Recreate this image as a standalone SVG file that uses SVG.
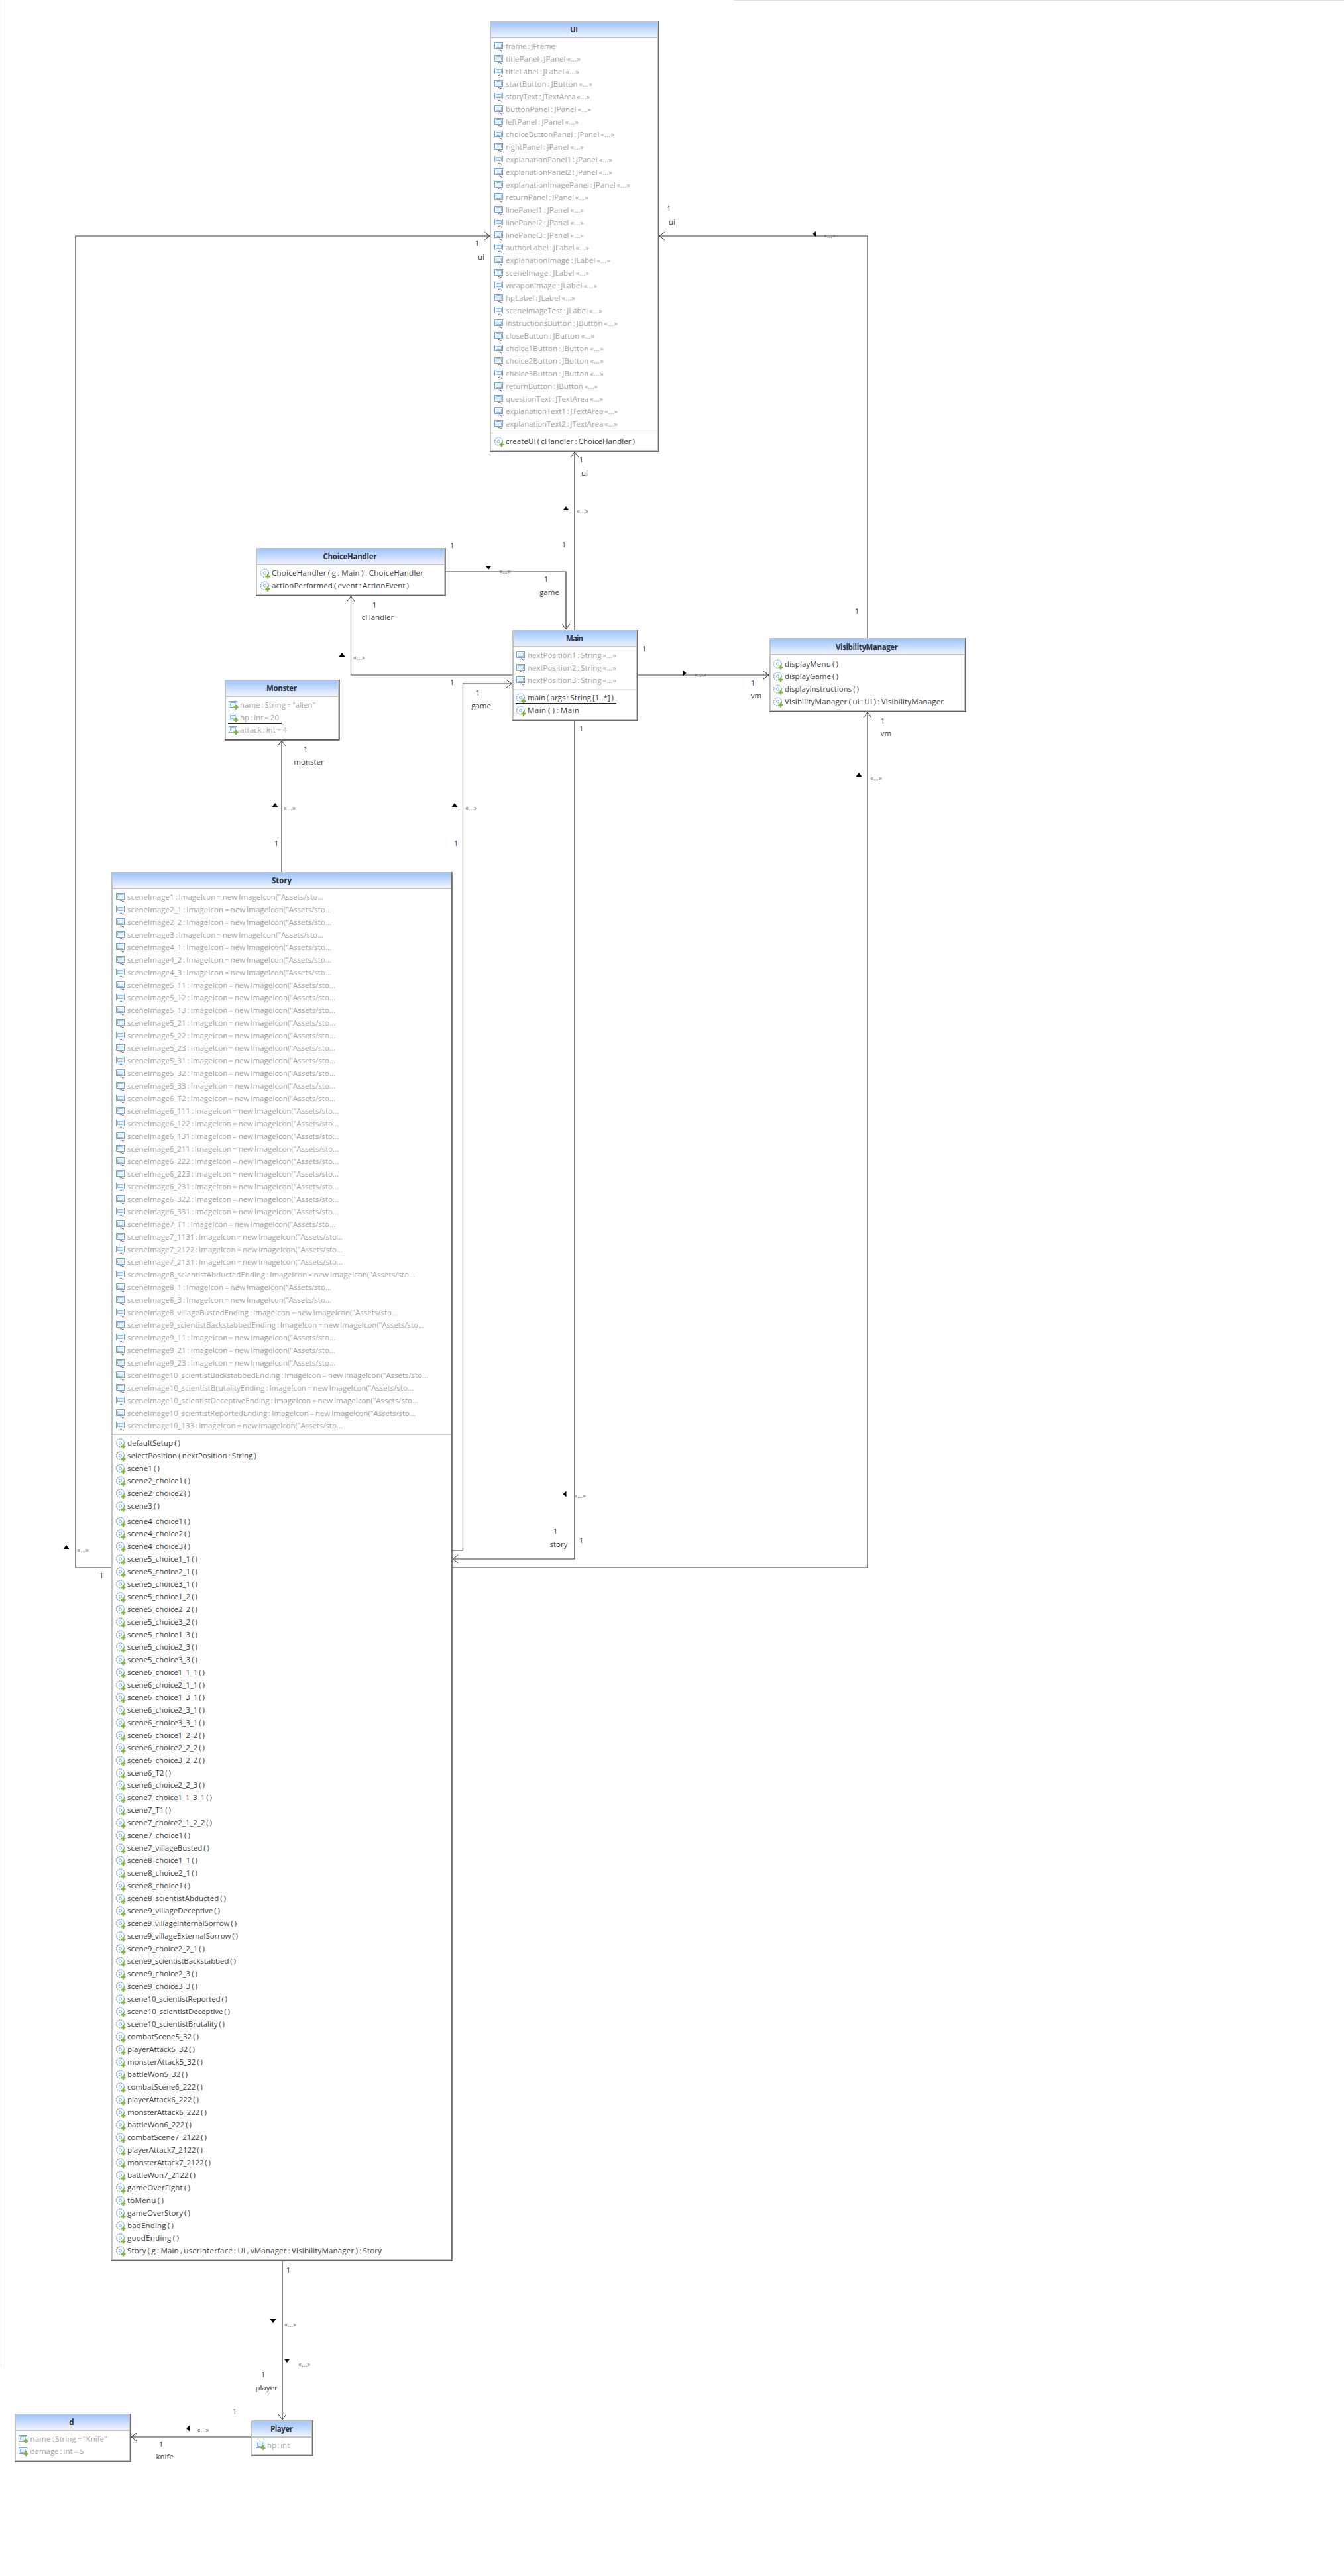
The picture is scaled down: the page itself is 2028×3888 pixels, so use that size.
<svg xmlns="http://www.w3.org/2000/svg" width="2028" height="3888" viewBox="0 0 2028 3888">
<style>
text{font-family:"Open Sans","Noto Sans","Liberation Sans",sans-serif;font-size:11.5px;word-spacing:-1px}
.a{fill:#a3a3a3}
.m{fill:#3a3a3a}
.t{font-weight:700;fill:#2f3340;text-anchor:middle;font-size:11.5px;word-spacing:0}
.l{fill:#3a3a3a;text-anchor:middle;word-spacing:0}
.s{fill:#6e6e6e;font-size:10px;text-anchor:middle;word-spacing:0}
.b{fill:#fff;stroke:#c4c4c4;stroke-width:2}
.h{fill:url(#hg)}
.d{stroke:#c4c4c4;stroke-width:2;fill:none}
.d1{stroke:#cfcfcf;stroke-width:1;fill:none}
.e{stroke:#444;stroke-width:1.3;fill:none}
.c{stroke:#3a3a3a;stroke-width:1.2;fill:none}
.u{stroke:#222;stroke-width:1}
</style>
<defs>
<linearGradient id="hg" x1="0" y1="0" x2="0" y2="1"><stop offset="0" stop-color="#9fc6ff"/><stop offset="1" stop-color="#eef4ff"/></linearGradient>
<marker id="o" markerUnits="userSpaceOnUse" markerWidth="12" markerHeight="14" refX="10" refY="7" orient="auto"><path d="M2 1L10 7L2 13" fill="none" stroke="#333" stroke-width="1"/></marker>
<polygon id="tu" points="-4.5,3 4.5,3 0,-3" fill="#000"/>
<polygon id="td" points="-4.5,-3 4.5,-3 0,3" fill="#000"/>
<polygon id="tl" points="2.5,-4.5 2.5,4.5 -2.5,0" fill="#000"/>
<polygon id="tr" points="-2.5,-4.5 -2.5,4.5 2.5,0" fill="#000"/>
<g id="f"><rect x="0.5" y="-5.5" width="12" height="9" fill="#fff" stroke="#6fa6dd"/><rect x="2.5" y="-3.5" width="8" height="5" fill="#eaf3fc" stroke="#94bde8"/><path d="M6 6q1.500-2 3 0t3 0" fill="none" stroke="#555"/></g>
<g id="fp"><rect x="0.500" y="-5.500" width="12" height="9" fill="#fff" stroke="#6fa6dd"/><rect x="2.500" y="-3.500" width="8" height="5" fill="#eaf3fc" stroke="#94bde8"/><path d="M11 0v7M7.500 3.500h7" stroke="#7fb33a" stroke-width="2.600"/></g>
<g id="mt"><circle cx="6.500" cy="0" r="6" fill="#fff" stroke="#6fa6dd" stroke-width="1.300" stroke-dasharray="2 1.200"/><circle cx="6.500" cy="0" r="2" fill="#fff" stroke="#6fa6dd"/><path d="M11 1.500v7M7.500 5h7" stroke="#7fb33a" stroke-width="2.600"/></g>
</defs>
<rect width="2028" height="3888" fill="#fff"/>
<path d="M1107 0.500H2028" stroke="#dedede"/>
<path d="M1.500 0V3572" stroke="#e4e4e4"/>

<g id="connectors">
<path class="c" d="M867 951V682" marker-end="url(#o)"/>
<path class="c" d="M673 863H854V950" marker-end="url(#o)"/>
<path class="c" d="M773 1019H529.500V900" marker-end="url(#o)"/>
<path class="c" d="M682 2340H698.500V1032H772" marker-end="url(#o)"/>
<path class="c" d="M425 1316V1118" marker-end="url(#o)"/>
<path class="c" d="M867 1088V2353H683" marker-end="url(#o)"/>
<path class="c" d="M168 2366H114V356H739" marker-end="url(#o)"/>
<path class="c" d="M682 2366H1309V1075" marker-end="url(#o)"/>
<path class="c" d="M1309 963V356H995" marker-end="url(#o)"/>
<path class="c" d="M962 1019H1160" marker-end="url(#o)"/>
<path class="c" d="M426 3413V3652" marker-end="url(#o)"/>
<path class="c" d="M379 3678H198" marker-end="url(#o)"/>
<use href="#tl" x="1229" y="353"/><text class="s" x="1252" y="359">«...»</text>
<text class="l" x="1009" y="319">1</text><text class="l" x="1014" y="339">ui</text>
<text class="l" x="720" y="371">1</text><text class="l" x="726" y="392">ui</text>
<use href="#tu" x="854" y="767"/><text class="s" x="879" y="775">«...»</text>
<text class="l" x="877" y="698">1</text><text class="l" x="882" y="718">ui</text><text class="l" x="851" y="826">1</text>
<text class="l" x="682" y="827">1</text><use href="#td" x="737" y="857"/><text class="s" x="762" y="866">«...»</text>
<text class="l" x="824" y="878">1</text><text class="l" x="829" y="898">game</text>
<text class="l" x="565" y="917">1</text><text class="l" x="570" y="936">cHandler</text>
<use href="#tu" x="516" y="988"/><text class="s" x="542" y="996">«...»</text><text class="l" x="682" y="1034">1</text>
<text class="l" x="721" y="1050">1</text><text class="l" x="726" y="1069">game</text>
<text class="l" x="461" y="1135">1</text><text class="l" x="466" y="1154">monster</text>
<use href="#tu" x="415" y="1215"/><text class="s" x="437" y="1223">«...»</text><text class="l" x="417" y="1277">1</text>
<use href="#tu" x="686" y="1215"/><text class="s" x="711" y="1223">«...»</text><text class="l" x="688" y="1277">1</text>
<text class="l" x="877" y="1104">1</text>
<use href="#tl" x="852" y="2255"/><text class="s" x="875" y="2261">«...»</text>
<text class="l" x="838" y="2315">1</text><text class="l" x="843" y="2335">story</text><text class="l" x="877" y="2329">1</text>
<use href="#tu" x="100" y="2335"/><text class="s" x="125" y="2343">«...»</text><text class="l" x="153" y="2382">1</text>
<text class="l" x="1293" y="926">1</text>
<text class="l" x="972" y="983">1</text><use href="#tr" x="1033" y="1016"/><text class="s" x="1057" y="1022">«...»</text>
<text class="l" x="1136" y="1035">1</text><text class="l" x="1141" y="1054">vm</text>
<text class="l" x="1332" y="1092">1</text><text class="l" x="1337" y="1111">vm</text>
<use href="#tu" x="1296" y="1169"/><text class="s" x="1322" y="1178">«...»</text>
<text class="l" x="435" y="3430">1</text><use href="#td" x="412" y="3503"/><text class="s" x="438" y="3512">«...»</text>
<use href="#td" x="433" y="3563"/><text class="s" x="459" y="3572">«...»</text>
<text class="l" x="397" y="3588">1</text><text class="l" x="402" y="3608">player</text>
<text class="l" x="354" y="3644">1</text><use href="#tl" x="283.500" y="3665"/><text class="s" x="306.500" y="3671">«...»</text>
<text class="l" x="243" y="3693">1</text><text class="l" x="248.600" y="3712">knife</text>
</g>

<g id="node-ui">
<rect class="b" x="740" y="33" width="253" height="647"/><rect class="h" x="741" y="34" width="251" height="22"/><path class="d" d="M740 57H993"/><path class="d1" d="M741 653.500H992"/><path class="e" d="M994 32V681H739"/>
<text class="t" x="866" y="49" textLength="12">UI</text>
<use href="#f" x="746" y="70"/><text class="a" x="763" y="74" textLength="75">frame : JFrame</text>
<use href="#f" x="746" y="89"/><text class="a" x="763" y="93" textLength="113">titlePanel : JPanel «...»</text>
<use href="#f" x="746" y="108"/><text class="a" x="763" y="112" textLength="111">titleLabel : JLabel «...»</text>
<use href="#f" x="746" y="127"/><text class="a" x="763" y="131" textLength="131">startButton : JButton «...»</text>
<use href="#f" x="746" y="146"/><text class="a" x="763" y="150" textLength="127">storyText : JTextArea «...»</text>
<use href="#f" x="746" y="165"/><text class="a" x="763" y="169" textLength="129">buttonPanel : JPanel «...»</text>
<use href="#f" x="746" y="184"/><text class="a" x="763" y="188" textLength="110">leftPanel : JPanel «...»</text>
<use href="#f" x="746" y="203"/><text class="a" x="763" y="207" textLength="164">choiceButtonPanel : JPanel «...»</text>
<use href="#f" x="746" y="222"/><text class="a" x="763" y="226" textLength="118">rightPanel : JPanel «...»</text>
<use href="#f" x="746" y="241"/><text class="a" x="763" y="245" textLength="161">explanationPanel1 : JPanel «...»</text>
<use href="#f" x="746" y="260"/><text class="a" x="763" y="264" textLength="161">explanationPanel2 : JPanel «...»</text>
<use href="#f" x="746" y="279"/><text class="a" x="763" y="283" textLength="188">explanationImagePanel : JPanel «...»</text>
<use href="#f" x="746" y="298"/><text class="a" x="763" y="302" textLength="125">returnPanel : JPanel «...»</text>
<use href="#f" x="746" y="317"/><text class="a" x="763" y="321" textLength="118">linePanel1 : JPanel «...»</text>
<use href="#f" x="746" y="336"/><text class="a" x="763" y="340" textLength="118">linePanel2 : JPanel «...»</text>
<use href="#f" x="746" y="355"/><text class="a" x="763" y="359" textLength="118">linePanel3 : JPanel «...»</text>
<use href="#f" x="746" y="374"/><text class="a" x="763" y="378" textLength="126">authorLabel : JLabel «...»</text>
<use href="#f" x="746" y="393"/><text class="a" x="763" y="397" textLength="158">explanationImage : JLabel «...»</text>
<use href="#f" x="746" y="412"/><text class="a" x="763" y="416" textLength="126">sceneImage : JLabel «...»</text>
<use href="#f" x="746" y="431"/><text class="a" x="763" y="435" textLength="138">weaponImage : JLabel «...»</text>
<use href="#f" x="746" y="450"/><text class="a" x="763" y="454" textLength="105">hpLabel : JLabel «...»</text>
<use href="#f" x="746" y="469"/><text class="a" x="763" y="473" textLength="146">sceneImageTest : JLabel «...»</text>
<use href="#f" x="746" y="488"/><text class="a" x="763" y="492" textLength="169">instructionsButton : JButton «...»</text>
<use href="#f" x="746" y="507"/><text class="a" x="763" y="511" textLength="134">closeButton : JButton «...»</text>
<use href="#f" x="746" y="526"/><text class="a" x="763" y="530" textLength="148">choice1Button : JButton «...»</text>
<use href="#f" x="746" y="545"/><text class="a" x="763" y="549" textLength="148">choice2Button : JButton «...»</text>
<use href="#f" x="746" y="564"/><text class="a" x="763" y="568" textLength="148">choice3Button : JButton «...»</text>
<use href="#f" x="746" y="583"/><text class="a" x="763" y="587" textLength="139">returnButton : JButton «...»</text>
<use href="#f" x="746" y="602"/><text class="a" x="763" y="606" textLength="147">questionText : JTextArea «...»</text>
<use href="#f" x="746" y="621"/><text class="a" x="763" y="625" textLength="169">explanationText1 : JTextArea «...»</text>
<use href="#f" x="746" y="640"/><text class="a" x="763" y="644" textLength="169">explanationText2 : JTextArea «...»</text>
<use href="#mt" x="746" y="666"/><text class="m" x="763" y="670" textLength="195">createUI ( cHandler : ChoiceHandler )</text>
</g>

<g id="node-choicehandler">
<rect class="b" x="387" y="828" width="284" height="70"/><rect class="h" x="388" y="829" width="282" height="22"/><path class="d" d="M387 852H671"/><path class="e" d="M672 827V899H386"/>
<text class="t" x="528" y="844" textLength="81">ChoiceHandler</text>
<use href="#mt" x="393" y="865"/><text class="m" x="410" y="869" textLength="229">ChoiceHandler ( g : Main ) :  ChoiceHandler</text>
<use href="#mt" x="393" y="884"/><text class="m" x="410" y="888" textLength="207">actionPerformed ( event : ActionEvent )</text>
</g>

<g id="node-main">
<rect class="b" x="774" y="952" width="187" height="134"/><rect class="h" x="775" y="953" width="185" height="22"/><path class="d" d="M774 976H961"/><path class="d1" d="M775 1041H960"/><path class="e" d="M962 951V1087H773"/>
<text class="t" x="867" y="968" textLength="26">Main</text>
<use href="#f" x="779" y="989"/><text class="a" x="796" y="993" textLength="134">nextPosition1 : String «...»</text>
<use href="#f" x="779" y="1008"/><text class="a" x="796" y="1012" textLength="134">nextPosition2 : String «...»</text>
<use href="#f" x="779" y="1027"/><text class="a" x="796" y="1031" textLength="134">nextPosition3 : String «...»</text>
<use href="#mt" x="779" y="1053"/><text class="m" x="796" y="1057" textLength="130">main ( args : String [1..*] )</text><path class="u" d="M778 1061.500H930"/>
<use href="#mt" x="779" y="1072"/><text class="m" x="796" y="1076" textLength="78">Main ( ) :  Main</text>
</g>

<g id="node-monster">
<rect class="b" x="340" y="1027" width="171" height="89"/><rect class="h" x="341" y="1028" width="169" height="22"/><path class="d" d="M340 1051H511"/><path class="e" d="M512 1026V1117H339"/>
<text class="t" x="425" y="1043" textLength="46">Monster</text>
<use href="#fp" x="345" y="1064"/><text class="a" x="362" y="1068" textLength="114">name : String = "alien"</text>
<use href="#fp" x="345" y="1083"/><text class="a" x="362" y="1087" textLength="59">hp : int = 20</text><path class="u" d="M344 1091.500H425"/>
<use href="#fp" x="345" y="1102"/><text class="a" x="362" y="1106" textLength="71">attack : int = 4</text>
</g>

<g id="node-visibilitymanager">
<rect class="b" x="1162" y="964" width="294" height="109"/><rect class="h" x="1163" y="965" width="292" height="22"/><path class="d" d="M1162 988H1456"/><path class="e" d="M1457 963V1074H1161"/>
<text class="t" x="1308" y="981" textLength="94">VisibilityManager</text>
<use href="#mt" x="1167" y="1002"/><text class="m" x="1184" y="1006" textLength="81">displayMenu ( )</text>
<use href="#mt" x="1167" y="1021"/><text class="m" x="1184" y="1025" textLength="81">displayGame ( )</text>
<use href="#mt" x="1167" y="1040"/><text class="m" x="1184" y="1044" textLength="112">displayInstructions ( )</text>
<use href="#mt" x="1167" y="1059"/><text class="m" x="1184" y="1063" textLength="240">VisibilityManager ( ui : UI ) :  VisibilityManager</text>
</g>

<g id="node-story">
<rect class="b" x="169" y="1317" width="512" height="2094"/><rect class="h" x="170" y="1318" width="510" height="22"/><path class="d" d="M169 1341H681"/><path class="d1" d="M170 2165.500H680"/><path class="e" d="M682 1316V3412H168"/>
<text class="t" x="425" y="1333" textLength="30">Story</text>
<use href="#f" x="175" y="1354"/><text class="a" x="192" y="1358" textLength="296">sceneImage1 : ImageIcon = new ImageIcon("Assets/sto...</text>
<use href="#f" x="175" y="1373"/><text class="a" x="192" y="1377" textLength="308">sceneImage2_1 : ImageIcon = new ImageIcon("Assets/sto...</text>
<use href="#f" x="175" y="1392"/><text class="a" x="192" y="1396" textLength="308">sceneImage2_2 : ImageIcon = new ImageIcon("Assets/sto...</text>
<use href="#f" x="175" y="1411"/><text class="a" x="192" y="1415" textLength="296">sceneImage3 : ImageIcon = new ImageIcon("Assets/sto...</text>
<use href="#f" x="175" y="1430"/><text class="a" x="192" y="1434" textLength="308">sceneImage4_1 : ImageIcon = new ImageIcon("Assets/sto...</text>
<use href="#f" x="175" y="1449"/><text class="a" x="192" y="1453" textLength="308">sceneImage4_2 : ImageIcon = new ImageIcon("Assets/sto...</text>
<use href="#f" x="175" y="1468"/><text class="a" x="192" y="1472" textLength="308">sceneImage4_3 : ImageIcon = new ImageIcon("Assets/sto...</text>
<use href="#f" x="175" y="1487"/><text class="a" x="192" y="1491" textLength="314">sceneImage5_11 : ImageIcon = new ImageIcon("Assets/sto...</text>
<use href="#f" x="175" y="1506"/><text class="a" x="192" y="1510" textLength="314">sceneImage5_12 : ImageIcon = new ImageIcon("Assets/sto...</text>
<use href="#f" x="175" y="1525"/><text class="a" x="192" y="1529" textLength="314">sceneImage5_13 : ImageIcon = new ImageIcon("Assets/sto...</text>
<use href="#f" x="175" y="1544"/><text class="a" x="192" y="1548" textLength="314">sceneImage5_21 : ImageIcon = new ImageIcon("Assets/sto...</text>
<use href="#f" x="175" y="1563"/><text class="a" x="192" y="1567" textLength="314">sceneImage5_22 : ImageIcon = new ImageIcon("Assets/sto...</text>
<use href="#f" x="175" y="1582"/><text class="a" x="192" y="1586" textLength="314">sceneImage5_23 : ImageIcon = new ImageIcon("Assets/sto...</text>
<use href="#f" x="175" y="1601"/><text class="a" x="192" y="1605" textLength="314">sceneImage5_31 : ImageIcon = new ImageIcon("Assets/sto...</text>
<use href="#f" x="175" y="1620"/><text class="a" x="192" y="1624" textLength="314">sceneImage5_32 : ImageIcon = new ImageIcon("Assets/sto...</text>
<use href="#f" x="175" y="1639"/><text class="a" x="192" y="1643" textLength="314">sceneImage5_33 : ImageIcon = new ImageIcon("Assets/sto...</text>
<use href="#f" x="175" y="1658"/><text class="a" x="192" y="1662" textLength="314">sceneImage6_T2 : ImageIcon = new ImageIcon("Assets/sto...</text>
<use href="#f" x="175" y="1677"/><text class="a" x="192" y="1681" textLength="319">sceneImage6_111 : ImageIcon = new ImageIcon("Assets/sto...</text>
<use href="#f" x="175" y="1696"/><text class="a" x="192" y="1700" textLength="319">sceneImage6_122 : ImageIcon = new ImageIcon("Assets/sto...</text>
<use href="#f" x="175" y="1715"/><text class="a" x="192" y="1719" textLength="319">sceneImage6_131 : ImageIcon = new ImageIcon("Assets/sto...</text>
<use href="#f" x="175" y="1734"/><text class="a" x="192" y="1738" textLength="319">sceneImage6_211 : ImageIcon = new ImageIcon("Assets/sto...</text>
<use href="#f" x="175" y="1753"/><text class="a" x="192" y="1757" textLength="319">sceneImage6_222 : ImageIcon = new ImageIcon("Assets/sto...</text>
<use href="#f" x="175" y="1772"/><text class="a" x="192" y="1776" textLength="319">sceneImage6_223 : ImageIcon = new ImageIcon("Assets/sto...</text>
<use href="#f" x="175" y="1791"/><text class="a" x="192" y="1795" textLength="319">sceneImage6_231 : ImageIcon = new ImageIcon("Assets/sto...</text>
<use href="#f" x="175" y="1810"/><text class="a" x="192" y="1814" textLength="319">sceneImage6_322 : ImageIcon = new ImageIcon("Assets/sto...</text>
<use href="#f" x="175" y="1829"/><text class="a" x="192" y="1833" textLength="319">sceneImage6_331 : ImageIcon = new ImageIcon("Assets/sto...</text>
<use href="#f" x="175" y="1848"/><text class="a" x="192" y="1852" textLength="314">sceneImage7_T1 : ImageIcon = new ImageIcon("Assets/sto...</text>
<use href="#f" x="175" y="1867"/><text class="a" x="192" y="1871" textLength="325">sceneImage7_1131 : ImageIcon = new ImageIcon("Assets/sto...</text>
<use href="#f" x="175" y="1886"/><text class="a" x="192" y="1890" textLength="325">sceneImage7_2122 : ImageIcon = new ImageIcon("Assets/sto...</text>
<use href="#f" x="175" y="1905"/><text class="a" x="192" y="1909" textLength="325">sceneImage7_2131 : ImageIcon = new ImageIcon("Assets/sto...</text>
<use href="#f" x="175" y="1924"/><text class="a" x="192" y="1928" textLength="434">sceneImage8_scientistAbductedEnding : ImageIcon = new ImageIcon("Assets/sto...</text>
<use href="#f" x="175" y="1943"/><text class="a" x="192" y="1947" textLength="308">sceneImage8_1 : ImageIcon = new ImageIcon("Assets/sto...</text>
<use href="#f" x="175" y="1962"/><text class="a" x="192" y="1966" textLength="308">sceneImage8_3 : ImageIcon = new ImageIcon("Assets/sto...</text>
<use href="#f" x="175" y="1981"/><text class="a" x="192" y="1985" textLength="408">sceneImage8_villageBustedEnding : ImageIcon = new ImageIcon("Assets/sto...</text>
<use href="#f" x="175" y="2000"/><text class="a" x="192" y="2004" textLength="448">sceneImage9_scientistBackstabbedEnding : ImageIcon = new ImageIcon("Assets/sto...</text>
<use href="#f" x="175" y="2019"/><text class="a" x="192" y="2023" textLength="314">sceneImage9_11 : ImageIcon = new ImageIcon("Assets/sto...</text>
<use href="#f" x="175" y="2038"/><text class="a" x="192" y="2042" textLength="314">sceneImage9_21 : ImageIcon = new ImageIcon("Assets/sto...</text>
<use href="#f" x="175" y="2057"/><text class="a" x="192" y="2061" textLength="314">sceneImage9_23 : ImageIcon = new ImageIcon("Assets/sto...</text>
<use href="#f" x="175" y="2076"/><text class="a" x="192" y="2080" textLength="454">sceneImage10_scientistBackstabbedEnding : ImageIcon = new ImageIcon("Assets/sto...</text>
<use href="#f" x="175" y="2095"/><text class="a" x="192" y="2099" textLength="432">sceneImage10_scientistBrutalityEnding : ImageIcon = new ImageIcon("Assets/sto...</text>
<use href="#f" x="175" y="2114"/><text class="a" x="192" y="2118" textLength="439">sceneImage10_scientistDeceptiveEnding : ImageIcon = new ImageIcon("Assets/sto...</text>
<use href="#f" x="175" y="2133"/><text class="a" x="192" y="2137" textLength="435">sceneImage10_scientistReportedEnding : ImageIcon = new ImageIcon("Assets/sto...</text>
<use href="#f" x="175" y="2152"/><text class="a" x="192" y="2156" textLength="325">sceneImage10_133 : ImageIcon = new ImageIcon("Assets/sto...</text>
<use href="#mt" x="175" y="2178"/><text class="m" x="192" y="2182" textLength="80">defaultSetup ( )</text>
<use href="#mt" x="175" y="2197"/><text class="m" x="192" y="2201" textLength="195">selectPosition ( nextPosition : String )</text>
<use href="#mt" x="175" y="2216"/><text class="m" x="192" y="2220" textLength="49">scene1 ( )</text>
<use href="#mt" x="175" y="2235"/><text class="m" x="192" y="2239" textLength="95">scene2_choice1 ( )</text>
<use href="#mt" x="175" y="2254"/><text class="m" x="192" y="2258" textLength="95">scene2_choice2 ( )</text>
<use href="#mt" x="175" y="2273"/><text class="m" x="192" y="2277" textLength="49">scene3 ( )</text>
<use href="#mt" x="175" y="2296"/><text class="m" x="192" y="2300" textLength="95">scene4_choice1 ( )</text>
<use href="#mt" x="175" y="2315"/><text class="m" x="192" y="2319" textLength="95">scene4_choice2 ( )</text>
<use href="#mt" x="175" y="2334"/><text class="m" x="192" y="2338" textLength="95">scene4_choice3 ( )</text>
<use href="#mt" x="175" y="2353"/><text class="m" x="192" y="2357" textLength="106">scene5_choice1_1 ( )</text>
<use href="#mt" x="175" y="2372"/><text class="m" x="192" y="2376" textLength="106">scene5_choice2_1 ( )</text>
<use href="#mt" x="175" y="2391"/><text class="m" x="192" y="2395" textLength="106">scene5_choice3_1 ( )</text>
<use href="#mt" x="175" y="2410"/><text class="m" x="192" y="2414" textLength="106">scene5_choice1_2 ( )</text>
<use href="#mt" x="175" y="2429"/><text class="m" x="192" y="2433" textLength="106">scene5_choice2_2 ( )</text>
<use href="#mt" x="175" y="2448"/><text class="m" x="192" y="2452" textLength="106">scene5_choice3_2 ( )</text>
<use href="#mt" x="175" y="2467"/><text class="m" x="192" y="2471" textLength="106">scene5_choice1_3 ( )</text>
<use href="#mt" x="175" y="2486"/><text class="m" x="192" y="2490" textLength="106">scene5_choice2_3 ( )</text>
<use href="#mt" x="175" y="2505"/><text class="m" x="192" y="2509" textLength="106">scene5_choice3_3 ( )</text>
<use href="#mt" x="175" y="2524"/><text class="m" x="192" y="2528" textLength="117">scene6_choice1_1_1 ( )</text>
<use href="#mt" x="175" y="2543"/><text class="m" x="192" y="2547" textLength="117">scene6_choice2_1_1 ( )</text>
<use href="#mt" x="175" y="2562"/><text class="m" x="192" y="2566" textLength="117">scene6_choice1_3_1 ( )</text>
<use href="#mt" x="175" y="2581"/><text class="m" x="192" y="2585" textLength="117">scene6_choice2_3_1 ( )</text>
<use href="#mt" x="175" y="2600"/><text class="m" x="192" y="2604" textLength="117">scene6_choice3_3_1 ( )</text>
<use href="#mt" x="175" y="2619"/><text class="m" x="192" y="2623" textLength="117">scene6_choice1_2_2 ( )</text>
<use href="#mt" x="175" y="2638"/><text class="m" x="192" y="2642" textLength="117">scene6_choice2_2_2 ( )</text>
<use href="#mt" x="175" y="2657"/><text class="m" x="192" y="2661" textLength="117">scene6_choice3_2_2 ( )</text>
<use href="#mt" x="175" y="2676"/><text class="m" x="192" y="2680" textLength="66">scene6_T2 ( )</text>
<use href="#mt" x="175" y="2694"/><text class="m" x="192" y="2698" textLength="117">scene6_choice2_2_3 ( )</text>
<use href="#mt" x="175" y="2713"/><text class="m" x="192" y="2717" textLength="128">scene7_choice1_1_3_1 ( )</text>
<use href="#mt" x="175" y="2732"/><text class="m" x="192" y="2736" textLength="66">scene7_T1 ( )</text>
<use href="#mt" x="175" y="2751"/><text class="m" x="192" y="2755" textLength="128">scene7_choice2_1_2_2 ( )</text>
<use href="#mt" x="175" y="2770"/><text class="m" x="192" y="2774" textLength="95">scene7_choice1 ( )</text>
<use href="#mt" x="175" y="2789"/><text class="m" x="192" y="2793" textLength="124">scene7_villageBusted ( )</text>
<use href="#mt" x="175" y="2808"/><text class="m" x="192" y="2812" textLength="106">scene8_choice1_1 ( )</text>
<use href="#mt" x="175" y="2827"/><text class="m" x="192" y="2831" textLength="106">scene8_choice2_1 ( )</text>
<use href="#mt" x="175" y="2846"/><text class="m" x="192" y="2850" textLength="95">scene8_choice1 ( )</text>
<use href="#mt" x="175" y="2865"/><text class="m" x="192" y="2869" textLength="149">scene8_scientistAbducted ( )</text>
<use href="#mt" x="175" y="2884"/><text class="m" x="192" y="2888" textLength="140">scene9_villageDeceptive ( )</text>
<use href="#mt" x="175" y="2903"/><text class="m" x="192" y="2907" textLength="165">scene9_villageInternalSorrow ( )</text>
<use href="#mt" x="175" y="2922"/><text class="m" x="192" y="2926" textLength="167">scene9_villageExternalSorrow ( )</text>
<use href="#mt" x="175" y="2941"/><text class="m" x="192" y="2945" textLength="117">scene9_choice2_2_1 ( )</text>
<use href="#mt" x="175" y="2960"/><text class="m" x="192" y="2964" textLength="164">scene9_scientistBackstabbed ( )</text>
<use href="#mt" x="175" y="2979"/><text class="m" x="192" y="2983" textLength="106">scene9_choice2_3 ( )</text>
<use href="#mt" x="175" y="2998"/><text class="m" x="192" y="3002" textLength="106">scene9_choice3_3 ( )</text>
<use href="#mt" x="175" y="3017"/><text class="m" x="192" y="3021" textLength="151">scene10_scientistReported ( )</text>
<use href="#mt" x="175" y="3036"/><text class="m" x="192" y="3040" textLength="155">scene10_scientistDeceptive ( )</text>
<use href="#mt" x="175" y="3055"/><text class="m" x="192" y="3059" textLength="147">scene10_scientistBrutality ( )</text>
<use href="#mt" x="175" y="3074"/><text class="m" x="192" y="3078" textLength="108">combatScene5_32 ( )</text>
<use href="#mt" x="175" y="3093"/><text class="m" x="192" y="3097" textLength="102">playerAttack5_32 ( )</text>
<use href="#mt" x="175" y="3112"/><text class="m" x="192" y="3116" textLength="114">monsterAttack5_32 ( )</text>
<use href="#mt" x="175" y="3131"/><text class="m" x="192" y="3135" textLength="91">battleWon5_32 ( )</text>
<use href="#mt" x="175" y="3150"/><text class="m" x="192" y="3154" textLength="114">combatScene6_222 ( )</text>
<use href="#mt" x="175" y="3169"/><text class="m" x="192" y="3173" textLength="108">playerAttack6_222 ( )</text>
<use href="#mt" x="175" y="3188"/><text class="m" x="192" y="3192" textLength="120">monsterAttack6_222 ( )</text>
<use href="#mt" x="175" y="3207"/><text class="m" x="192" y="3211" textLength="97">battleWon6_222 ( )</text>
<use href="#mt" x="175" y="3226"/><text class="m" x="192" y="3230" textLength="120">combatScene7_2122 ( )</text>
<use href="#mt" x="175" y="3245"/><text class="m" x="192" y="3249" textLength="114">playerAttack7_2122 ( )</text>
<use href="#mt" x="175" y="3264"/><text class="m" x="192" y="3268" textLength="126">monsterAttack7_2122 ( )</text>
<use href="#mt" x="175" y="3283"/><text class="m" x="192" y="3287" textLength="103">battleWon7_2122 ( )</text>
<use href="#mt" x="175" y="3302"/><text class="m" x="192" y="3306" textLength="95">gameOverFight ( )</text>
<use href="#mt" x="175" y="3321"/><text class="m" x="192" y="3325" textLength="55">toMenu ( )</text>
<use href="#mt" x="175" y="3340"/><text class="m" x="192" y="3344" textLength="95">gameOverStory ( )</text>
<use href="#mt" x="175" y="3359"/><text class="m" x="192" y="3363" textLength="70">badEnding ( )</text>
<use href="#mt" x="175" y="3378"/><text class="m" x="192" y="3382" textLength="78">goodEnding ( )</text>
<use href="#mt" x="175" y="3397"/><text class="m" x="192" y="3401" textLength="384">Story ( g : Main , userInterface : UI , vManager : VisibilityManager ) :  Story</text>
</g>

<g id="node-player">
<rect class="b" x="380" y="3654" width="91" height="51"/><rect class="h" x="381" y="3655" width="89" height="22"/><path class="d" d="M380 3678H471"/><path class="e" d="M472 3653V3706H379"/>
<text class="t" x="425" y="3670" textLength="34">Player</text>
<use href="#fp" x="386" y="3691"/><text class="a" x="403" y="3695" textLength="34">hp : int</text>
</g>

<g id="node-d">
<rect class="b" x="23" y="3644" width="173" height="70"/><rect class="h" x="24" y="3645" width="171" height="22"/><path class="d" d="M23 3668H196"/><path class="e" d="M197 3643V3715H22"/>
<text class="t" x="108" y="3660">d</text><path d="M105 3666l3-3 3 3" fill="none" stroke="#e8c48a"/>
<use href="#fp" x="28" y="3681"/><text class="a" x="45.600" y="3685" textLength="116">name : String = "Knife"</text>
<use href="#fp" x="28" y="3700"/><text class="a" x="45.600" y="3704" textLength="81">damage : int = 5</text>
</g>
</svg>
